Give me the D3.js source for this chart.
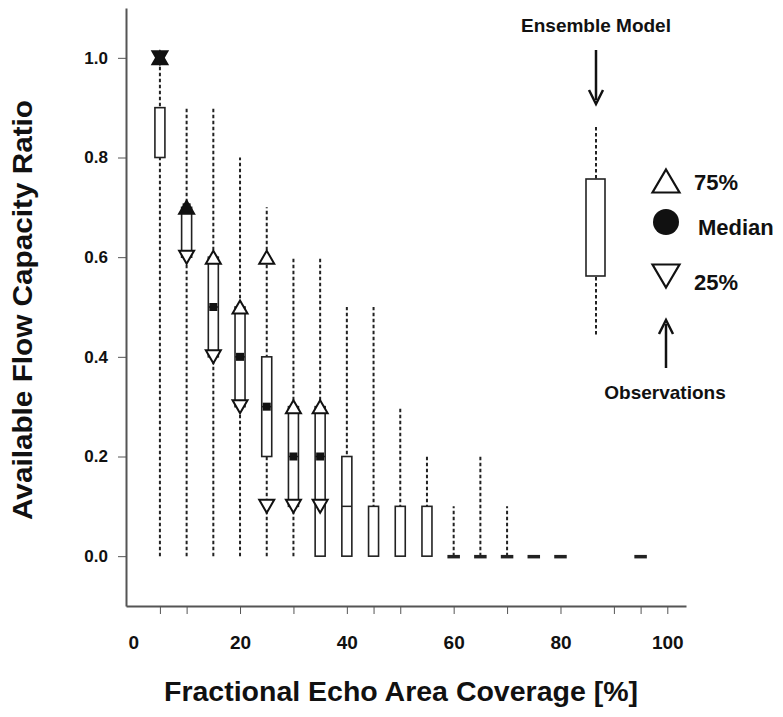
<!DOCTYPE html>
<html>
<head>
<title>Flow capacity vs echo coverage</title>
<style>
body {
    margin: 0;
    background: white;
}

svg text {
    font-family: "Liberation Sans", Arial, sans-serif;
    font-weight: bold;
    fill: #111;
}

.axis path, .axis line {
    stroke: #555;
}

.axis path {
    stroke-width: 2px;
}

.whisker {
    stroke: #222;
    stroke-width: 2px;
    stroke-dasharray: 3.5 2.5;
}

.box {
    fill: white;
    stroke: #222;
    stroke-width: 1.6px;
}

.tri {
    stroke: #111;
    stroke-width: 2px;
}
</style>
</head>
<body>

<script src="https://cdn.jsdelivr.net/npm/d3@7"></script>

<svg id='chart' width='783' height='717'></svg>

<script>
// ensemble model, one box per 5% coverage bin
const bins   = [5, 10, 15, 20, 25, 30, 35, 40, 45, 50, 55, 60, 65, 70, 75, 80, 95];
const ensMin = [0, 0, 0, 0, 0, 0, 0, 0, 0, 0, 0, 0, 0, 0, 0, 0, 0];
const ensMax = [1.0, 0.9, 0.9, 0.8, 0.7, 0.6, 0.6, 0.5, 0.5, 0.3, 0.2, 0.1, 0.2, 0.1, 0, 0, 0];
const ensQ1  = [0.8, 0.6, 0.4, 0.3, 0.2, 0.1, 0.0, 0.0, 0, 0, 0, 0, 0, 0, 0, 0, 0];
const ensMed = [0.9, 0.7, 0.5, 0.4, 0.3, 0.2, 0.2, 0.1, 0, 0, 0, 0, 0, 0, 0, 0, 0];
const ensQ3  = [0.9, 0.7, 0.6, 0.5, 0.4, 0.3, 0.3, 0.2, 0.1, 0.1, 0.1, 0, 0, 0, 0, 0, 0];

// observations
const obsBins = [5, 10, 15, 20, 25, 30, 35];
const obs75   = [1.0, 0.7, 0.6, 0.5, 0.6, 0.3, 0.3];
const obsMed  = [1.0, 0.7, 0.5, 0.4, 0.3, 0.2, 0.2];
const obs25   = [1.0, 0.6, 0.4, 0.3, 0.1, 0.1, 0.1];

const yTicks = [0, 0.2, 0.4, 0.6, 0.8, 1.0];
const xLabels = [0, 20, 40, 60, 80, 100];
const xMinorTicks = [5, 10, 20, 30, 40, 45, 50, 60, 70, 80, 90, 95, 100];

const svg = d3.select('#chart');

const x = d3.scaleLinear().domain([-1.35, 103.5]).range([126, 686]);
const y = d3.scaleLinear().domain([-0.1, 1.1]).range([606, 8]);

const boxW = 10;
const triW = 15;
const triH = 13;

// axes
svg.append('g')
    .attr('class', 'axis')
    .attr('transform', `translate(${x.range()[0]},0)`)
    .call(d3.axisLeft(y).tickValues(yTicks).tickFormat(d3.format('.1f')).tickSize(8).tickSizeOuter(0).tickPadding(10))
    .call(g => g.selectAll('text').style('font-size', '17px').attr('font-family', null));

svg.append('g')
    .attr('class', 'axis')
    .attr('transform', `translate(0,${y.range()[0]})`)
    .call(d3.axisBottom(x).tickValues(xMinorTicks).tickFormat('').tickSize(8).tickSizeOuter(0));

svg.append('g')
    .attr('transform', `translate(0,${y.range()[0]})`)
    .call(d3.axisBottom(x).tickValues(xLabels).tickSize(0).tickPadding(30))
    .call(g => g.select('.domain').remove())
    .call(g => g.selectAll('text').style('font-size', '19px').attr('font-family', null));

svg.append('text')
    .attr('x', 401)
    .attr('y', 701)
    .attr('text-anchor', 'middle')
    .attr('textLength', 474)
    .attr('lengthAdjust', 'spacingAndGlyphs')
    .style('font-size', '27px')
    .text('Fractional Echo Area Coverage [%]');

svg.append('text')
    .attr('transform', 'translate(32,310) rotate(-90)')
    .attr('text-anchor', 'middle')
    .attr('textLength', 420)
    .attr('lengthAdjust', 'spacingAndGlyphs')
    .style('font-size', '27px')
    .text('Available Flow Capacity Ratio');

// ensemble boxes
const ens = bins.map((b, i) => ({bin: b, min: ensMin[i], max: ensMax[i], q1: ensQ1[i], med: ensMed[i], q3: ensQ3[i]}));

const eg = svg.append('g');

eg.selectAll('.whisker')
    .data(ens.filter(d => d.max > d.min))
    .join('line')
        .attr('class', 'whisker')
        .attr('x1', d => x(d.bin))
        .attr('x2', d => x(d.bin))
        .attr('y1', d => y(d.min))
        .attr('y2', d => y(d.max));

eg.selectAll('.box')
    .data(ens)
    .join('rect')
        .attr('class', 'box')
        .attr('x', d => x(d.bin) - boxW / 2)
        .attr('width', boxW)
        .attr('y', d => y(d.q3))
        .attr('height', d => Math.max(1, y(d.q1) - y(d.q3)))
        .style('stroke-width', d => d.q3 == d.q1 ? '2.5px' : null);

eg.selectAll('.med')
    .data(ens.filter(d => d.med > d.q1 && d.med < d.q3))
    .join('line')
        .attr('class', 'med')
        .attr('x1', d => x(d.bin) - boxW / 2)
        .attr('x2', d => x(d.bin) + boxW / 2)
        .attr('y1', d => y(d.med))
        .attr('y2', d => y(d.med))
        .attr('stroke', '#222')
        .attr('stroke-width', 1.5);

// observations
const obs = obsBins.map((b, i) => ({bin: b, q75: obs75[i], med: obsMed[i], q25: obs25[i]}));

function triUp(cx, cy, w, h){
    return `M${cx},${cy - h / 2}L${cx + w / 2},${cy + h / 2}L${cx - w / 2},${cy + h / 2}Z`;
}

function triDown(cx, cy, w, h){
    return `M${cx},${cy + h / 2}L${cx + w / 2},${cy - h / 2}L${cx - w / 2},${cy - h / 2}Z`;
}

const og = svg.append('g');

og.selectAll('.up')
    .data(obs)
    .join('path')
        .attr('class', 'tri up')
        .attr('d', d => triUp(x(d.bin), y(d.q75), triW, triH))
        .attr('fill', d => d.q75 == d.med ? '#111' : 'white');

og.selectAll('.down')
    .data(obs)
    .join('path')
        .attr('class', 'tri down')
        .attr('d', d => triDown(x(d.bin), y(d.q25), triW, triH))
        .attr('fill', d => d.q25 == d.med ? '#111' : 'white');

og.selectAll('.sq')
    .data(obs)
    .join('rect')
        .attr('class', 'sq')
        .attr('x', d => x(d.bin) - 4)
        .attr('y', d => y(d.med) - 4)
        .attr('width', 8)
        .attr('height', 8)
        .attr('fill', '#111');

// legend
const lg = svg.append('g');

lg.append('text').attr('x', 596).attr('y', 32).attr('text-anchor', 'middle').style('font-size', '19px').text('Ensemble Model');
lg.append('line').attr('x1', 596).attr('x2', 596).attr('y1', 50).attr('y2', 100).attr('stroke', '#111').attr('stroke-width', 2.5);
lg.append('path').attr('d', 'M589,90L596,104L603,90').attr('fill', 'none').attr('stroke', '#111').attr('stroke-width', 2.5);

lg.append('line').attr('class', 'whisker').attr('x1', 596).attr('x2', 596).attr('y1', 127).attr('y2', 337);
lg.append('rect').attr('class', 'box').attr('x', 586).attr('y', 179).attr('width', 19).attr('height', 97);

lg.append('path').attr('class', 'tri').attr('d', triUp(666, 181, 27, 23)).attr('fill', 'white').style('stroke-width', '2.2px');
lg.append('circle').attr('cx', 666).attr('cy', 222).attr('r', 13).attr('fill', '#111');
lg.append('path').attr('class', 'tri').attr('d', triDown(666, 276, 27, 23)).attr('fill', 'white').style('stroke-width', '2.2px');

lg.append('text').attr('x', 694).attr('y', 190).style('font-size', '22px').text('75%');
lg.append('text').attr('x', 698).attr('y', 235).style('font-size', '22px').text('Median');
lg.append('text').attr('x', 694).attr('y', 290).style('font-size', '22px').text('25%');

lg.append('line').attr('x1', 666).attr('x2', 666).attr('y1', 368).attr('y2', 324).attr('stroke', '#111').attr('stroke-width', 2.5);
lg.append('path').attr('d', 'M659,334L666,320L673,334').attr('fill', 'none').attr('stroke', '#111').attr('stroke-width', 2.5);
lg.append('text').attr('x', 665).attr('y', 399).attr('text-anchor', 'middle').style('font-size', '19px').text('Observations');
</script>
</body>
</html>
